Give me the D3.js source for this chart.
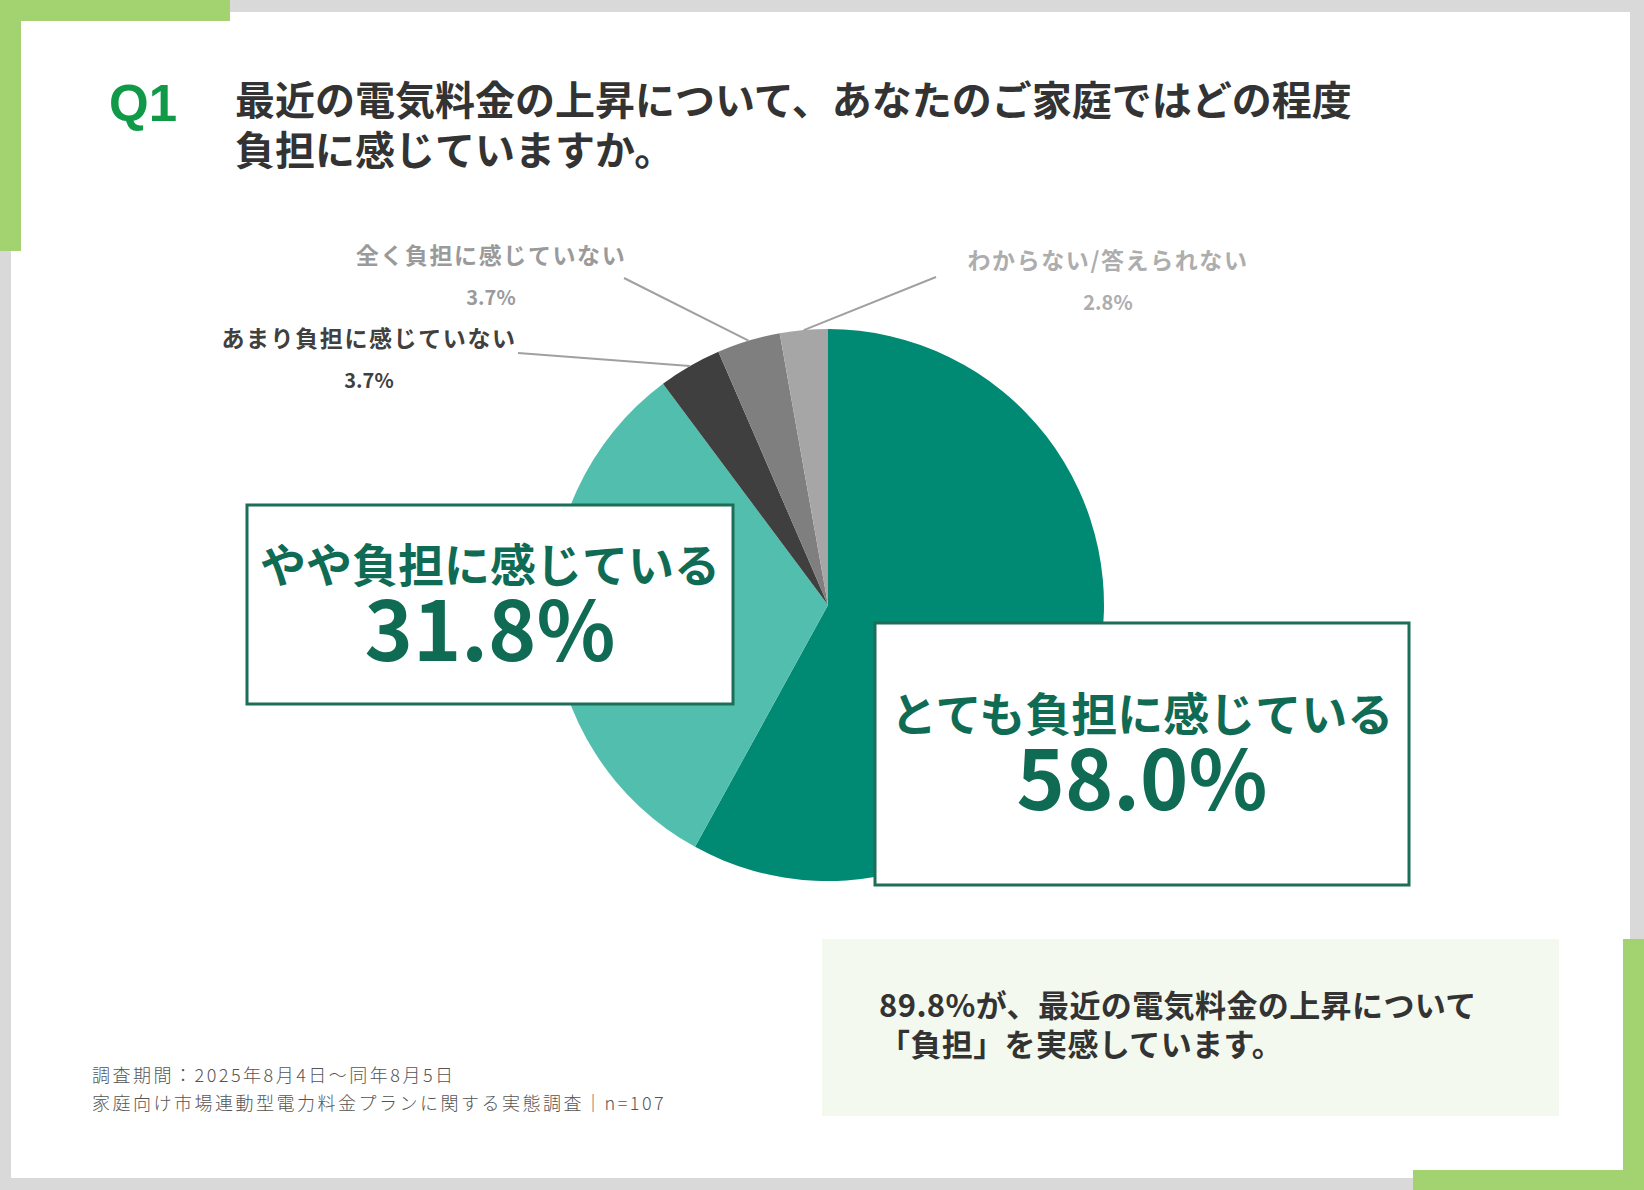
<!DOCTYPE html>
<html lang="ja">
<head>
<meta charset="utf-8">
<script src="https://cdn.jsdelivr.net/npm/d3@7"></script>
<style>
  html, body { margin: 0; padding: 0; background: #d9d9d9; }
  svg { display: block; }
  text { font-family: "Noto Sans CJK JP", "Noto Sans", sans-serif; }
</style>
</head>
<body>
<div id="chart"></div>
<script>
const CATEGORIES = ['とても負担に感じている', 'やや負担に感じている', 'あまり負担に感じていない', '全く負担に感じていない', 'わからない/答えられない'];
const VALUES = [58.0, 31.8, 3.7, 3.7, 2.8];
const COLORS = ['#008a73', '#52bead', '#3f3f3f', '#7f7f7f', '#a6a6a6'];

// label layout for the small slices (anchor of the label text, end of the leader line)
const SMALL_LABELS = [
  { idx: 2, x: 369, y: 337, lx: 518, ly: 353, color: '#404040' },
  { idx: 3, x: 491, y: 254, lx: 624, ly: 278, color: '#9a9a9a' },
  { idx: 4, x: 1108, y: 259, lx: 936, ly: 277, color: '#adadad' },
];

const W = 1644, H = 1190;
const GREEN = '#a3d370';
const TEXT_GREEN = '#106b54';

const svg = d3.select('#chart').append('svg')
  .attr('width', W).attr('height', H)
  .attr('viewBox', `0 0 ${W} ${H}`);

// frame
svg.append('rect').attr('width', W).attr('height', H).attr('fill', '#d9d9d9');
svg.append('rect').attr('x', 11).attr('y', 12).attr('width', 1619).attr('height', 1166).attr('fill', '#fff');
svg.append('rect').attr('x', 0).attr('y', 0).attr('width', 230).attr('height', 21).attr('fill', GREEN);
svg.append('rect').attr('x', 0).attr('y', 0).attr('width', 21).attr('height', 251).attr('fill', GREEN);
svg.append('rect').attr('x', 1623).attr('y', 939).attr('width', 21).attr('height', 251).attr('fill', GREEN);
svg.append('rect').attr('x', 1413).attr('y', 1170).attr('width', 231).attr('height', 20).attr('fill', GREEN);

// title
svg.append('text')
  .attr('x', 109).attr('y', 121)
  .style('font-family', '"Liberation Sans", Arial, sans-serif')
  .attr('font-size', 51).attr('font-weight', 700)
  .attr('fill', '#109a48')
  .text('Q1');

const title = svg.append('text')
  .attr('font-size', 40).attr('font-weight', 700).attr('fill', '#333');
title.append('tspan').attr('x', 235).attr('y', 115).text('最近の電気料金の上昇について、あなたのご家庭ではどの程度');
title.append('tspan').attr('x', 235).attr('y', 165).text('負担に感じていますか。');

// pie
const cx = 828, cy = 605, r = 276;
const pie = d3.pie().sort(null).value(d => d)(VALUES);
const arc = d3.arc().innerRadius(0).outerRadius(r);
const g = svg.append('g').attr('transform', `translate(${cx},${cy})`);

g.selectAll('path')
  .data(pie)
  .join('path')
  .attr('d', arc)
  .attr('fill', (d, i) => COLORS[i]);

// small slice labels with leader lines
const edge = d3.arc().innerRadius(r).outerRadius(r);
SMALL_LABELS.forEach(l => {
  const p = edge.centroid(pie[l.idx]);
  svg.append('line')
    .attr('x1', cx + p[0]).attr('y1', cy + p[1])
    .attr('x2', l.lx).attr('y2', l.ly)
    .attr('stroke', '#a0a0a0').attr('stroke-width', 2);
  svg.append('text')
    .attr('x', l.x).attr('y', l.y)
    .attr('text-anchor', 'middle').attr('dominant-baseline', 'central')
    .attr('font-size', 23).attr('font-weight', 700).attr('fill', l.color)
    .attr('letter-spacing', 1.6)
    .text(CATEGORIES[l.idx]);
  svg.append('text')
    .attr('x', l.x).attr('y', l.y + 42)
    .attr('text-anchor', 'middle').attr('dominant-baseline', 'central')
    .attr('font-size', 20).attr('font-weight', 700).attr('fill', l.color)
    .text(VALUES[l.idx].toFixed(1) + '%');
});

// big label boxes
const BOXES = [
  { idx: 1, x: 247, y: 505, w: 486, h: 199, t1: 562, t2: 625 },
  { idx: 0, x: 875, y: 623, w: 534, h: 262, t1: 711, t2: 774 },
];
BOXES.forEach(b => {
  svg.append('rect')
    .attr('x', b.x).attr('y', b.y).attr('width', b.w).attr('height', b.h)
    .attr('fill', '#fff').attr('stroke', '#1d6e58').attr('stroke-width', 3);
  const mx = b.x + b.w / 2;
  svg.append('text')
    .attr('x', mx).attr('y', b.t1)
    .attr('text-anchor', 'middle').attr('dominant-baseline', 'central')
    .attr('font-size', 46).attr('font-weight', 700).attr('fill', TEXT_GREEN)
    .text(CATEGORIES[b.idx]);
  svg.append('text')
    .attr('x', mx).attr('y', b.t2)
    .attr('text-anchor', 'middle').attr('dominant-baseline', 'central')
    .attr('font-size', 82).attr('font-weight', 700).attr('fill', TEXT_GREEN)
    .text(VALUES[b.idx].toFixed(1) + '%');
});

// summary box
svg.append('rect').attr('x', 822).attr('y', 939).attr('width', 737).attr('height', 177).attr('fill', '#f3f9ee');
const total = VALUES[0] + VALUES[1];
const summary = svg.append('text')
  .attr('font-size', 31).attr('font-weight', 700).attr('fill', '#333')
  .attr('letter-spacing', 0.4);
summary.append('tspan').attr('x', 879).attr('y', 1017).text(`${total.toFixed(1)}%が、最近の電気料金の上昇について`);
summary.append('tspan').attr('x', 879).attr('y', 1056).text('「負担」を実感しています。');

// footnote
const note = svg.append('text')
  .attr('font-size', 18).attr('font-weight', 300).attr('fill', '#555')
  .attr('letter-spacing', 2.5);
note.append('tspan').attr('x', 92).attr('y', 1082).text('調査期間：2025年8月4日～同年8月5日');
note.append('tspan').attr('x', 92).attr('y', 1110).text('家庭向け市場連動型電力料金プランに関する実態調査｜n=107');
</script>
</body>
</html>
